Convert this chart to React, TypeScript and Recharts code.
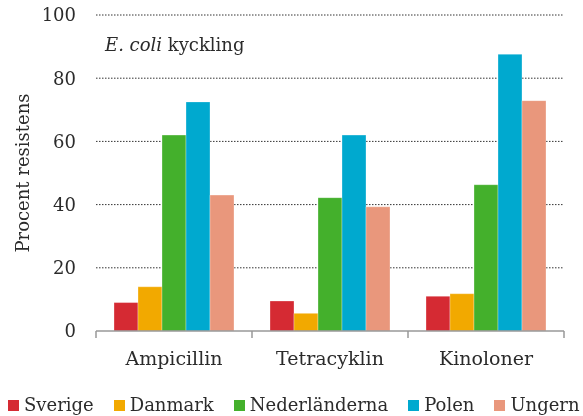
import { BarChart, Bar, XAxis, YAxis, CartesianGrid } from 'recharts';

const categories = ['Ampicillin', 'Tetracyklin', 'Kinoloner'];
const countries = ['Sverige', 'Danmark', 'Nederländerna', 'Polen', 'Ungern'];
const sverige = [9, 9.5, 11];
const danmark = [14, 5.6, 11.8];
const nederlanderna = [62, 42.2, 46.3];
const polen = [72.5, 62, 87.6];
const ungern = [43, 39.3, 72.9];
const yTicks = [0, 20, 40, 60, 80, 100];
const boundaryTicks = [0, 1, 2, 3];

const colors = ['#d52a33', '#f2a900', '#44b02c', '#00a9cf', '#e9977c'];
const series = [sverige, danmark, nederlanderna, polen, ungern];

const data = categories.map((name, i) => {
  const row: Record<string, string | number> = { name, pos: i + 0.5 };
  countries.forEach((c, j) => {
    row[c] = series[j][i];
  });
  return row;
});

const font = '"DejaVu Serif", serif';
const textColor = '#2b2b2b';

const YLabel = ({ viewBox }: any) => {
  const cy = viewBox.y + viewBox.height / 2;
  return (
    <text
      x={22}
      y={cy}
      transform={`rotate(-90 22 ${cy})`}
      textAnchor="middle"
      dominantBaseline="central"
      fontFamily={font}
      fontSize={18}
      fill={textColor}
    >
      Procent resistens
    </text>
  );
};

export default function App() {
  return (
    <div style={{ position: 'fixed', left: 0, top: 0, width: 583, height: 416, fontFamily: font, color: textColor, overflow: 'hidden' }}>
      <BarChart
        width={583}
        height={416}
        data={data}
        margin={{ top: 15, right: 19, left: 0, bottom: 0 }}
        barCategoryGap={18}
        barGap={0}
      >
        <CartesianGrid
          xAxisId="b"
          vertical={false}
          horizontalValues={[20, 40, 60, 80, 100]}
          stroke="#333"
          strokeDasharray="1.5 1.5"
        />
        <XAxis
          xAxisId="a"
          type="number"
          dataKey="pos"
          domain={[0, 3]}
          ticks={boundaryTicks}
          allowDataOverflow
          height={1}
          tickSize={7}
          tickFormatter={() => ''}
          axisLine={{ stroke: '#999', strokeWidth: 1.5 }}
          tickLine={{ stroke: '#999', strokeWidth: 1.5 }}
        />
        <XAxis
          xAxisId="b"
          dataKey="name"
          height={84}
          axisLine={false}
          tickLine={false}
          tickSize={0}
          tickMargin={20}
          tick={{ fontSize: 19, fill: textColor, fontFamily: font }}
        />
        <YAxis
          domain={[0, 100]}
          ticks={yTicks}
          width={96}
          axisLine={false}
          tickLine={false}
          tickSize={0}
          tickMargin={20}
          tick={{ fontSize: 18, fill: textColor, fontFamily: font }}
          label={<YLabel />}
        />
        {countries.map((c, j) => (
          <Bar
            key={c}
            xAxisId="b"
            dataKey={c}
            fill={colors[j]}
            stroke="rgba(255,255,255,0.5)"
            strokeWidth={0.6}
            isAnimationActive={false}
          />
        ))}
      </BarChart>
      <div style={{ position: 'absolute', left: 105, top: 34, fontSize: 18, fontFamily: font, whiteSpace: 'nowrap' }}>
        <i>E. coli</i> kyckling
      </div>
      <div style={{ position: 'absolute', left: 8, top: 393, display: 'flex', gap: 20, fontSize: 18, fontFamily: font, whiteSpace: 'nowrap', lineHeight: '24px' }}>
        {countries.map((c, j) => (
          <span key={c} style={{ display: 'flex', alignItems: 'center' }}>
            <span style={{ display: 'inline-block', width: 11, height: 11, background: colors[j], marginRight: 5 }} />
            {c}
          </span>
        ))}
      </div>
    </div>
  );
}
